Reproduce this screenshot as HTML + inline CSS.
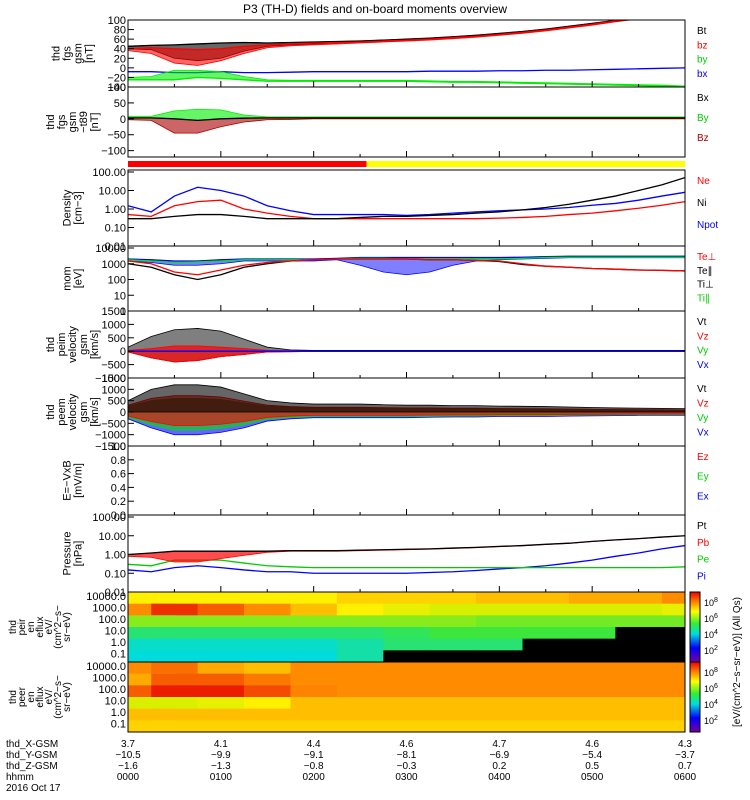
<!DOCTYPE html>
<html><head><meta charset="utf-8"><style>
body{margin:0;background:#fff;}
svg{display:block;font-family:"Liberation Sans",sans-serif;}
</style></head><body>
<svg id="c" width="750" height="800" viewBox="0 0 750 800" xmlns="http://www.w3.org/2000/svg">
<text x="375" y="13" text-anchor="middle" font-size="12">P3 (TH-D) fields and on-board moments overview</text>
</svg>
<script>
// ---- data (hours since 0000, every 15 minutes) ----
const times = [0,0.25,0.5,0.75,1,1.25,1.5,1.75,2,2.25,2.5,2.75,3,3.25,3.5,3.75,4,4.25,4.5,4.75,5,5.25,5.5,5.75,6];
const btVals  = [45,47,48,50,52,53,52,53,54,55,56,58,60,62,65,68,72,76,81,87,93,99,105,110,115];
const btLo    = [40,38,20,15,20,35,45,48,50,52,54,56,58,60,63,66,70,74,79,85,91,97,103,108,113];
const bzVals  = [40,42,40,38,40,45,48,50,52,53,54,56,58,60,63,66,70,74,79,85,91,98,104,109,114];
const bzLo    = [36,30,10,5,15,30,42,46,48,50,52,54,56,58,61,64,68,72,77,83,89,96,102,107,112];
const byVals  = [-8,-8,-10,-10,-8,-10,-10,-9,-8,-8,-8,-8,-8,-7,-7,-7,-6,-6,-5,-5,-4,-3,-2,-1,0];
const bxVals  = [-25,-25,-25,-20,-22,-25,-28,-28,-28,-28,-28,-28,-28,-29,-30,-30,-31,-32,-33,-34,-35,-36,-37,-38,-40];
const bxHi    = [-20,-18,-5,-5,-8,-18,-25,-26,-26,-26,-26,-26,-26,-27,-28,-28,-29,-30,-31,-32,-33,-34,-35,-36,-38];
const dbVals  = [3,3,0,-5,0,2,3,3,3,3,3,3,3,3,3,3,3,3,3,3,3,3,3,3,3];
const dbLo    = [-3,-5,-45,-45,-25,-10,-3,-2,0,0,0,0,0,0,0,0,0,0,0,0,0,0,0,0,0];
const dbHi    = [8,8,25,30,28,12,6,6,6,6,6,6,6,6,6,6,6,6,6,6,6,6,6,6,6];
const neVals  = [0.3,0.3,0.4,0.5,0.5,0.4,0.3,0.3,0.3,0.3,0.35,0.4,0.4,0.45,0.5,0.6,0.7,0.9,1.2,1.8,3,5,10,20,50];
const niVals  = [0.5,0.4,1.5,2.5,3,1,0.6,0.4,0.3,0.3,0.3,0.3,0.3,0.3,0.3,0.3,0.32,0.35,0.4,0.5,0.6,0.8,1.1,1.6,2.5];
const npotVals= [1.5,0.7,5,15,10,5,1.5,0.8,0.5,0.5,0.5,0.5,0.45,0.5,0.6,0.7,0.8,0.9,1,1.2,1.6,2,3,5,8];
const teperVals=[1500,1000,300,200,400,800,1200,1500,1800,2000,2000,2000,2000,1800,1800,1600,1500,1000,700,600,500,450,400,380,350];
const teparVals=[1000,600,200,100,200,600,1000,1500,1800,2000,2000,2000,2000,1800,1800,1600,1400,900,700,600,500,450,400,380,350];
const tiperVals=[2000,1800,1500,1500,1800,2000,2000,2000,2000,2200,2500,2500,2500,2500,2500,2500,2500,2600,2800,3000,3000,3000,3000,3000,3000];
const tiparVals=[1800,1500,1200,1300,1500,1800,1800,1800,1800,2000,2200,2200,2000,2000,2000,2000,2000,2200,2500,2600,2600,2600,2600,2600,2600];
const tiLo     =[1500,1200,800,800,1000,1500,1500,1500,1500,1800,800,300,200,300,800,1500,1800,2000,2200,2400,2400,2400,2400,2400,2400];
const vtVals  = [30,100,200,200,150,100,30,20,10,10,10,10,10,10,10,10,10,10,10,10,10,10,10,10,10];
const vtHi    = [150,550,800,850,750,450,150,50,30,30,30,30,30,30,30,30,30,30,30,30,30,30,30,30,30];
const vLo     = [-30,-250,-400,-350,-200,-120,-30,-20,-10,-10,-10,-10,-10,-10,-10,-10,-10,-10,-10,-10,-10,-10,-10,-10,-10];
const veHi    = [500,1000,1200,1200,1100,800,500,400,350,350,350,320,300,300,280,280,260,250,240,220,200,180,170,160,150];
const veLo    = [-300,-700,-1000,-1000,-900,-700,-400,-300,-250,-250,-250,-250,-250,-230,-220,-220,-200,-200,-200,-180,-170,-160,-150,-150,-150];
const ptVals  = [1,1.2,1.5,1.5,1.5,1.5,1.5,1.6,1.6,1.6,1.7,1.8,1.9,2,2.2,2.4,2.7,3,3.5,4,5,6,7,8.5,10];
const ptLo    = [0.8,0.7,0.4,0.4,0.6,0.9,1.3,1.5,1.5,1.5,1.6,1.7,1.8,1.9,2.1,2.3,2.6,2.9,3.4,3.9,4.9,5.9,6.9,8.4,9.9];
const peVals  = [0.3,0.25,0.5,0.5,0.5,0.35,0.25,0.22,0.2,0.2,0.2,0.2,0.2,0.2,0.2,0.2,0.2,0.2,0.2,0.2,0.2,0.2,0.2,0.2,0.22];
const piVals  = [0.15,0.12,0.2,0.25,0.2,0.15,0.12,0.12,0.1,0.1,0.1,0.1,0.1,0.11,0.12,0.14,0.17,0.2,0.25,0.35,0.5,0.8,1.2,2,3];
// spectrogram grids, columns every 30 minutes; rows 10000,1000,100,10,1,0.1 eV; -1 = no data (black)
const specTimes = [0,0.5,1,1.5,2,2.5,3,3.5,4,4.5,5,5.5,6];
const ionGrid = [
 [.75,.75,.75,.75,.75,.78,.78,.78,.8,.8,.82,.82,.85],
 [.85,.95,.9,.85,.8,.75,.72,.7,.7,.7,.7,.7,.72],
 [.62,.62,.62,.62,.62,.62,.62,.62,.6,.6,.6,.6,.6],
 [.5,.5,.5,.5,.5,.5,.52,.55,.55,.55,.55,-1,-1],
 [.42,.42,.42,.42,.42,.45,.5,.5,.5,-1,-1,-1,-1],
 [.4,.4,.4,.4,.4,.45,-1,-1,-1,-1,-1,-1,-1]];
const eleGrid = [
 [.85,.88,.82,.8,.85,.85,.85,.85,.85,.85,.85,.85,.85],
 [.82,.9,.9,.87,.85,.85,.85,.85,.85,.85,.85,.85,.85],
 [.9,.97,.97,.92,.86,.85,.85,.85,.85,.85,.85,.85,.85],
 [.7,.7,.72,.75,.8,.8,.8,.8,.8,.8,.8,.8,.8],
 [.8,.8,.8,.8,.8,.8,.8,.8,.8,.8,.8,.8,.8],
 [.78,.78,.78,.78,.78,.78,.78,.78,.78,.78,.78,.78,.78]];
const xLabels = ["0000","0100","0200","0300","0400","0500","0600"];
const xGsm = ["3.7","4.1","4.4","4.6","4.7","4.6","4.3"];
const yGsm = ["-10.5","-9.9","-9.1","-8.1","-6.9","-5.4","-3.7"];
const zGsm = ["-1.6","-1.3","-0.8","-0.3","0.2","0.5","0.7"];

const NS="http://www.w3.org/2000/svg", svg=document.getElementById('c');
const X0=128,X1=685;
const xs=t=>X0+(X1-X0)*t/6;
function el(tag,attrs,parent){const e=document.createElementNS(NS,tag);for(const k in attrs)e.setAttribute(k,attrs[k]);(parent||svg).appendChild(e);return e;}
function txt(x,y,s,opt,name){const e=el('text',Object.assign({x:x,y:y,'font-size':10},opt||{}));e.textContent=s;


return e;}
function linScale(y0,y1,v0,v1){return v=>y1-(y1-y0)*(v-v0)/(v1-v0);}
function logScale(y0,y1,v0,v1){return v=>y1-(y1-y0)*(Math.log10(Math.max(v,1e-9))-Math.log10(v0))/(Math.log10(v1)-Math.log10(v0));}
const clip=el('clipPath',{id:'pc'});el('rect',{x:X0,y:20,width:X1-X0,height:572},clip);
const plotG=el('g',{'clip-path':'url(#pc)'});


function line(ys,vals,color,name){
 const p=el('polyline',{points:vals.map((v,i)=>xs(times[i])+','+ys(v)).join(' '),fill:'none',stroke:color,'stroke-width':1.3},plotG);
 
 
}
function band(ys,lo,hi,color,name,op){
 const pts=hi.map((v,i)=>xs(times[i])+','+ys(v)).concat(lo.map((v,i)=>xs(times[i])+','+ys(v)).reverse());
 const p=el('polygon',{points:pts.join(' '),fill:color,stroke:color,'stroke-width':0.8,'fill-opacity':op||0.6},plotG);
 
 
}
function panel(y0,y1,ticks,ys,ylabels,rlabels,pname){
 const r=el('rect',{x:X0,y:y0,width:X1-X0,height:y1-y0,fill:'none',stroke:'#000','stroke-width':1});
 
 
 ticks.forEach(t=>{const y=ys(t.v);txt(X0-2,y+4,t.s,{'text-anchor':'end','font-size':11},pname+'-tick');
   el('line',{x1:X0,x2:X0+6,y1:y,y2:y,stroke:'#000'});});
 for(let h=0;h<=6;h+=0.5){el('line',{x1:xs(h),x2:xs(h),y1:y1,y2:y1-(h%1?3:6),stroke:'#000'});}
 const cx=X0-52,cy=(y0+y1)/2;
 ylabels.forEach((s,i)=>{txt(cx+(i-(ylabels.length-1)/2)*11,cy,s,{'text-anchor':'middle','font-size':11,transform:`rotate(-90 ${cx+(i-(ylabels.length-1)/2)*11} ${cy})`},pname+'-ylabel');});
 rlabels.forEach((l,i)=>txt(697,y0+14+i*((y1-y0-10)/rlabels.length),l[0],{fill:l[1],'font-size':10},pname+'-legend-'+i));
}
// Panel 1: Bt
let s1=linScale(20,87,-40,100);
panel(20,87,[100,80,60,40,20,0,-20,-40].map(v=>({v:v,s:String(v).replace('-','−')})),s1,['thd','fgs','gsm','[nT]'],[['Bt','#000'],['bz','#f00'],['by','#0c0'],['bx','#00f']],'panel-fgs');
band(s1,btLo,btVals,'#000','bt-band');line(s1,btVals,'#000','bt-line');
band(s1,bzLo,bzVals,'#f00','bz-band');line(s1,bzVals,'#f00','bz-line');
line(s1,byVals,'#00f','by-line');
band(s1,bxVals,bxHi,'#0e0','bx-band');line(s1,bxVals,'#0e0','bx-line');
// Panel 2
let s2=linScale(87,157,-120,100);
panel(87,157,[{v:100,s:'100'},{v:50,s:'50'},{v:0,s:'0'},{v:-50,s:'−50'},{v:-100,s:'−100'}],s2,['thd','fgs','gsm','−t89','[nT]'],[['Bx','#000'],['By','#0c0'],['Bz','#a00']],'panel-dfgs');
band(s2,dbVals,dbHi,'#0e0','dby-band');band(s2,dbLo,dbVals,'#a00','dbz-band');line(s2,dbVals,'#000','dbx-line');
// mode bar
let mb=el('rect',{x:X0,y:161,width:xs(2.57)-X0,height:6,fill:'#f00'});
mb=el('rect',{x:xs(2.57),y:161,width:X1-xs(2.57),height:6,fill:'#ff0'});
// Density
let s4=logScale(172,246,0.01,100);
panel(170,246,[100,10,1,0.1,0.01].map(v=>({v:v,s:v.toFixed(2)})),s4,['Density','[cm−3]'],[['Ne','#f00'],['Ni','#000'],['Npot','#00f']],'panel-density');
line(s4,npotVals,'#00f','npot-line');line(s4,niVals,'#f00','ni-line');line(s4,neVals,'#000','ne-line');
// Temperature
let s5=logScale(248,311,1,10000);
panel(246,311,[10000,1000,100,10,1].map(v=>({v:v,s:String(v)})),s5,['mom','[eV]'],[['Te⊥','#f00'],['Te∥','#000'],['Ti⊥','#000'],['Ti∥','#0c0']],'panel-temp');
band(s5,tiLo,tiperVals,'#00f','ti-band',0.5);line(s5,tiperVals,'#00f','tiper-line');line(s5,tiparVals,'#0e0','tipar-line');
line(s5,teparVals,'#000','tepar-line');line(s5,teperVals,'#f00','teper-line');
// Ion velocity
let s6=linScale(311,378,-1000,1500);
panel(311,378,[1500,1000,500,0,-500,-1000].map(v=>({v:v,s:String(v).replace('-','−')})),s6,['thd','peim','velocity','gsm','[km/s]'],[['Vt','#000'],['Vz','#f00'],['Vy','#0c0'],['Vx','#00f']],'panel-vi');
band(s6,vLo,vtHi,'#000','vit-band',0.5);band(s6,vLo,vtVals,'#f00','viz-band',0.7);line(s6,times.map(()=>0),'#00f','vix-line');
// Electron velocity
let s7=linScale(378,446,-1500,1500);
panel(378,446,[1500,1000,500,0,-500,-1000,-1500].map(v=>({v:v,s:String(v).replace('-','−')})),s7,['thd','peem','velocity','gsm','[km/s]'],[['Vt','#000'],['Vz','#f00'],['Vy','#0c0'],['Vx','#00f']],'panel-ve');
band(s7,veLo,veHi.map(v=>v*0.5),'#00f','vex-band',0.6);band(s7,veLo.map(v=>v*0.8),veHi.map(v=>v*0.5),'#0d0','vey-band',0.6);
band(s7,veLo.map(v=>v*0.6),veHi.map(v=>v*0.6),'#f00','vez-band',0.6);band(s7,times.map(()=>0),veHi,'#000','vet-band',0.6);
// E field
let s8=linScale(446,515,0,1);
panel(446,515,[1,0.8,0.6,0.4,0.2,0].map(v=>({v:v,s:v.toFixed(1)})),s8,['E=−VxB','[mV/m]'],[['Ez','#f00'],['Ey','#0c0'],['Ex','#00f']],'panel-efield');
// Pressure
let s9=logScale(517,592,0.01,100);
panel(515,592,[100,10,1,0.1,0.01].map(v=>({v:v,s:v.toFixed(2)})),s9,['Pressure','[nPa]'],[['Pt','#000'],['Pb','#f00'],['Pe','#0c0'],['Pi','#00f']],'panel-pressure');
line(s9,piVals,'#00f','pi-line');line(s9,peVals,'#0c0','pe-line');band(s9,ptLo,ptVals,'#f00','pb-band',0.7);line(s9,ptVals,'#000','pt-line');
// Spectrograms
function rainbow(v){if(v<0)return '#000';const stops=[[0,[120,0,160]],[0.2,[0,0,255]],[0.4,[0,220,220]],[0.55,[60,230,60]],[0.68,[200,240,0]],[0.75,[255,240,0]],[0.85,[255,140,0]],[1,[230,0,0]]];
 for(let i=1;i<stops.length;i++){if(v<=stops[i][0]){const a=stops[i-1],b=stops[i],f=(v-a[0])/(b[0]-a[0]);return 'rgb('+a[1].map((c,j)=>Math.round(c+(b[1][j]-c)*f)).join(',')+')';}}return 'rgb(230,0,0)';}
function spec(grid,y0,y1,name,ylabels){
 const g=el('g',{});
 const rh=(y1-y0)/grid.length,cw=(X1-X0)/(specTimes.length-1);
 grid.forEach((row,r)=>row.forEach((v,c)=>{const x=xs(specTimes[c])-cw/2;el('rect',{x:Math.max(X0,x),y:y0+r*rh,width:Math.min(cw+0.5,X1-Math.max(X0,x)),height:rh+0.5,fill:rainbow(v)},g);}));
 el('rect',{x:X0,y:y0,width:X1-X0,height:y1-y0,fill:'none',stroke:'#000'});
 ['10000.0','1000.0','100.0','10.0','1.0','0.1'].forEach((s,i)=>txt(X0-2,y0+8+i*(y1-y0-10)/5.2,s,{'text-anchor':'end','font-size':11},name+'-tick'));
 const cx=X0-85,cy=(y0+y1)/2;
 ylabels.forEach((s,i)=>{const xx=cx+(i-(ylabels.length-1)/2)*9;txt(xx,cy,s,{'text-anchor':'middle','font-size':10,transform:`rotate(-90 ${xx} ${cy})`},name+'-ylabel');});
}
spec(ionGrid,592,662,'ion-spectrogram',['thd','peir','en','eflux','eV/','(cm^2−s−','sr−eV)']);
spec(eleGrid,662,732,'electron-spectrogram',['thd','peer','en','eflux','eV/','(cm^2−s−','sr−eV)']);
// colorbars
const lg=el('linearGradient',{id:'cb',x1:0,y1:1,x2:0,y2:0});
[[0,'#7800a0'],[0.2,'#00f'],[0.4,'#0dd'],[0.55,'#3e3'],[0.72,'#ff0'],[0.85,'#f80'],[1,'#e00']].forEach(s=>el('stop',{offset:s[0],'stop-color':s[1]},lg));
[[592,662],[662,732]].forEach((p,k)=>{const r=el('rect',{x:690,y:p[0],width:10,height:70,fill:'url(#cb)',stroke:'#000'});
 ['8','6','4','2'].forEach((e,i)=>{const t=txt(704,p[0]+14+i*16,'10',{'font-size':9},'colorbar-tick');const s=el('tspan',{dy:-4,'font-size':7},t);s.textContent=e;});});
txt(740,662,'[eV/(cm^2−s−sr−eV)] (All Qs)',{'text-anchor':'middle','font-size':10,transform:'rotate(-90 740 662)'},'colorbar-title');
// x axis labels
[['thd_X-GSM',747],['thd_Y-GSM',758],['thd_Z-GSM',769],['hhmm',780],['2016 Oct 17',791]].forEach(r=>txt(6,r[1],r[0],{'font-size':10},'x-axis-row-label'));
xLabels.forEach((s,i)=>{const x=xs(i);
 txt(x,747,xGsm[i],{'text-anchor':'middle'},'x-gsm-label');
 txt(x,758,yGsm[i].replace('-','−'),{'text-anchor':'middle'},'y-gsm-label');
 txt(x,769,zGsm[i].replace('-','−'),{'text-anchor':'middle'},'z-gsm-label');
 txt(x,780,s,{'text-anchor':'middle'},'time-label');});
</script>
</body></html>
